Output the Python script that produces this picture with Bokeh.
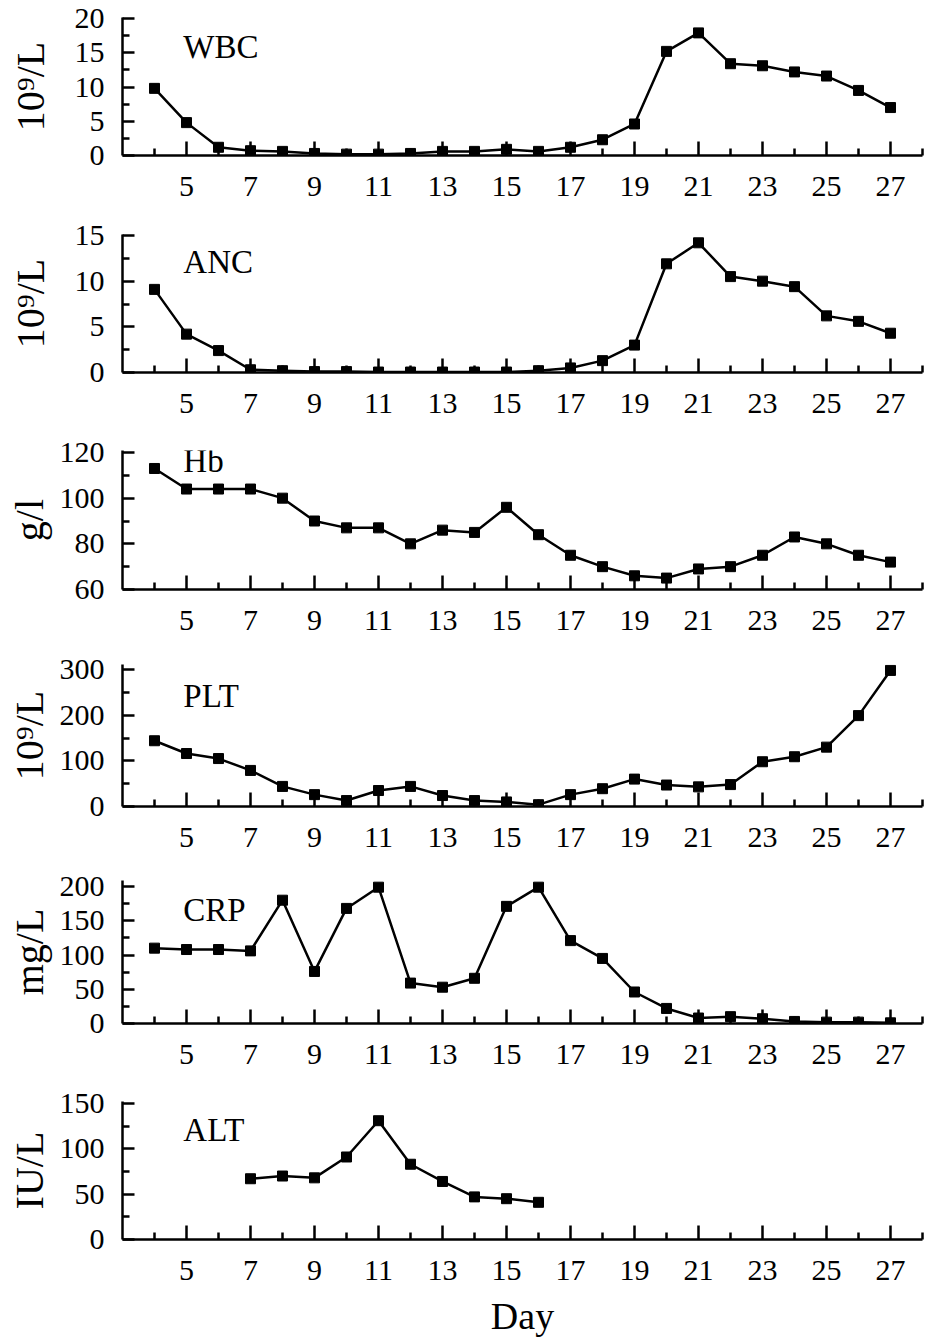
from bokeh.plotting import figure
from bokeh.layouts import column
from bokeh.models import Range1d, FixedTicker, Label
from bokeh.embed import file_html
from bokeh.resources import INLINE

days = list(range(4, 28))
alt_days = list(range(7, 17))

wbc = [9.8, 4.8, 1.2, 0.7, 0.6, 0.3, 0.2, 0.2, 0.3, 0.6, 0.6, 0.9, 0.6, 1.2,
       2.3, 4.6, 15.2, 17.9, 13.4, 13.1, 12.2, 11.6, 9.5, 7.0]
anc = [9.1, 4.2, 2.4, 0.3, 0.2, 0.1, 0.1, 0.05, 0.05, 0.05, 0.05, 0.05, 0.2, 0.5,
       1.3, 3.0, 11.9, 14.2, 10.5, 10.0, 9.4, 6.2, 5.6, 4.3]
hb = [113, 104, 104, 104, 100, 90, 87, 87, 80, 86, 85, 96, 84, 75,
      70, 66, 65, 69, 70, 75, 83, 80, 75, 72]
plt_ = [144, 116, 105, 79, 44, 26, 13, 35, 44, 24, 13, 10, 4, 26,
        39, 60, 47, 43, 48, 98, 109, 130, 199, 298]
crp = [110, 108, 108, 106, 180, 76, 168, 199, 59, 53, 66, 171, 199, 121,
       95, 46, 22, 8, 10, 7, 3, 2, 2, 1]
alt = [67, 70, 68, 91, 131, 83, 64, 47, 45, 41]

x_ticks = list(range(5, 28, 2))
x_minor = list(range(4, 29, 2))
x_title = "Day"

panels = [
    dict(name="WBC", unit="10\u2079/L", x=days, y=wbc, lo=0, hi=20, ext=1,
         ticks=[0, 5, 10, 15, 20], minor=[2.5, 7.5, 12.5, 17.5], lab_frac=0.92),
    dict(name="ANC", unit="10\u2079/L", x=days, y=anc, lo=0, hi=15, ext=1,
         ticks=[0, 5, 10, 15], minor=[2.5, 7.5, 12.5], lab_frac=0.94),
    dict(name="Hb", unit="g/l", x=days, y=hb, lo=60, hi=120, ext=2,
         ticks=[60, 80, 100, 120], minor=[70, 90, 110], lab_frac=1.07),
    dict(name="PLT", unit="10\u2079/L", x=days, y=plt_, lo=0, hi=300, ext=5,
         ticks=[0, 100, 200, 300], minor=[50, 150, 250], lab_frac=0.94),
    dict(name="CRP", unit="mg/L", x=days, y=crp, lo=0, hi=200, ext=6,
         ticks=[0, 50, 100, 150, 200], minor=[25, 75, 125, 175], lab_frac=0.96),
    dict(name="ALT", unit="IU/L", x=alt_days, y=alt, lo=0, hi=150, ext=2,
         ticks=[0, 50, 100, 150], minor=[25, 75, 125], lab_frac=0.94),
]

FONT = "Liberation Serif"
W = 927
PANEL_H = 217
TOTAL_H = 1339
FRAME_H = 137
TOP = 18
figs = []
for i, pn in enumerate(panels):
    last = i == len(panels) - 1
    h = TOTAL_H - PANEL_H * (len(panels) - 1) if last else PANEL_H
    span = pn["hi"] - pn["lo"]
    ext = pn["ext"]
    top_px = pn["hi"] + ext * span / FRAME_H  # axis runs a few px past top tick
    p = figure(width=W, height=h, output_backend="svg", toolbar_location=None,
               x_range=Range1d(3, 28), y_range=Range1d(pn["lo"], top_px),
               min_border_left=122, min_border_right=5, min_border_top=TOP - ext,
               min_border_bottom=h - TOP - FRAME_H)
    p.outline_line_color = None
    p.grid.visible = False
    p.background_fill_color = "white"
    p.border_fill_color = "white"

    p.line(pn["x"], pn["y"], line_color="black", line_width=2.5)
    p.scatter(pn["x"], pn["y"], marker="square", size=10, color="black")

    for ax in (p.xaxis[0], p.yaxis[0]):
        ax.axis_line_width = 2.5
        ax.axis_line_color = "black"
        ax.major_tick_line_width = 2.5
        ax.minor_tick_line_width = 2.5
        ax.major_tick_line_color = "black"
        ax.minor_tick_line_color = "black"
        ax.major_tick_out = 0
        ax.minor_tick_out = 0
        ax.major_label_text_font = FONT
        ax.major_label_text_font_size = "30px"
        ax.major_label_text_color = "black"
        ax.axis_label_text_font = FONT
        ax.axis_label_text_font_style = "normal"
        ax.axis_label_text_color = "black"

    xa = p.xaxis[0]
    xa.ticker = FixedTicker(ticks=x_ticks, minor_ticks=x_minor)
    xa.major_tick_in = 14
    xa.minor_tick_in = 7
    xa.major_label_standoff = 21
    if last:
        xa.axis_label = x_title
        xa.axis_label_text_font_size = "38px"
        xa.axis_label_standoff = 12

    ya = p.yaxis[0]
    ya.ticker = FixedTicker(ticks=pn["ticks"], minor_ticks=pn["minor"])
    ya.major_tick_in = 12
    ya.minor_tick_in = 7
    ya.major_label_standoff = 18
    ya.axis_label = pn["unit"]
    ya.axis_label_text_font_size = "40px"
    widest = max(len(str(t)) for t in pn["ticks"])
    ya.axis_label_standoff = 19 if widest <= 2 else 5

    ly = pn["lo"] + pn["lab_frac"] * span
    p.add_layout(Label(x=4.9, y=ly, text=pn["name"], text_font=FONT,
                       text_font_size="33px", text_color="black",
                       text_baseline="top", text_align="left"))
    figs.append(p)

layout = column(*figs, spacing=0)
open("out.html", "w").write(file_html(layout, INLINE))
